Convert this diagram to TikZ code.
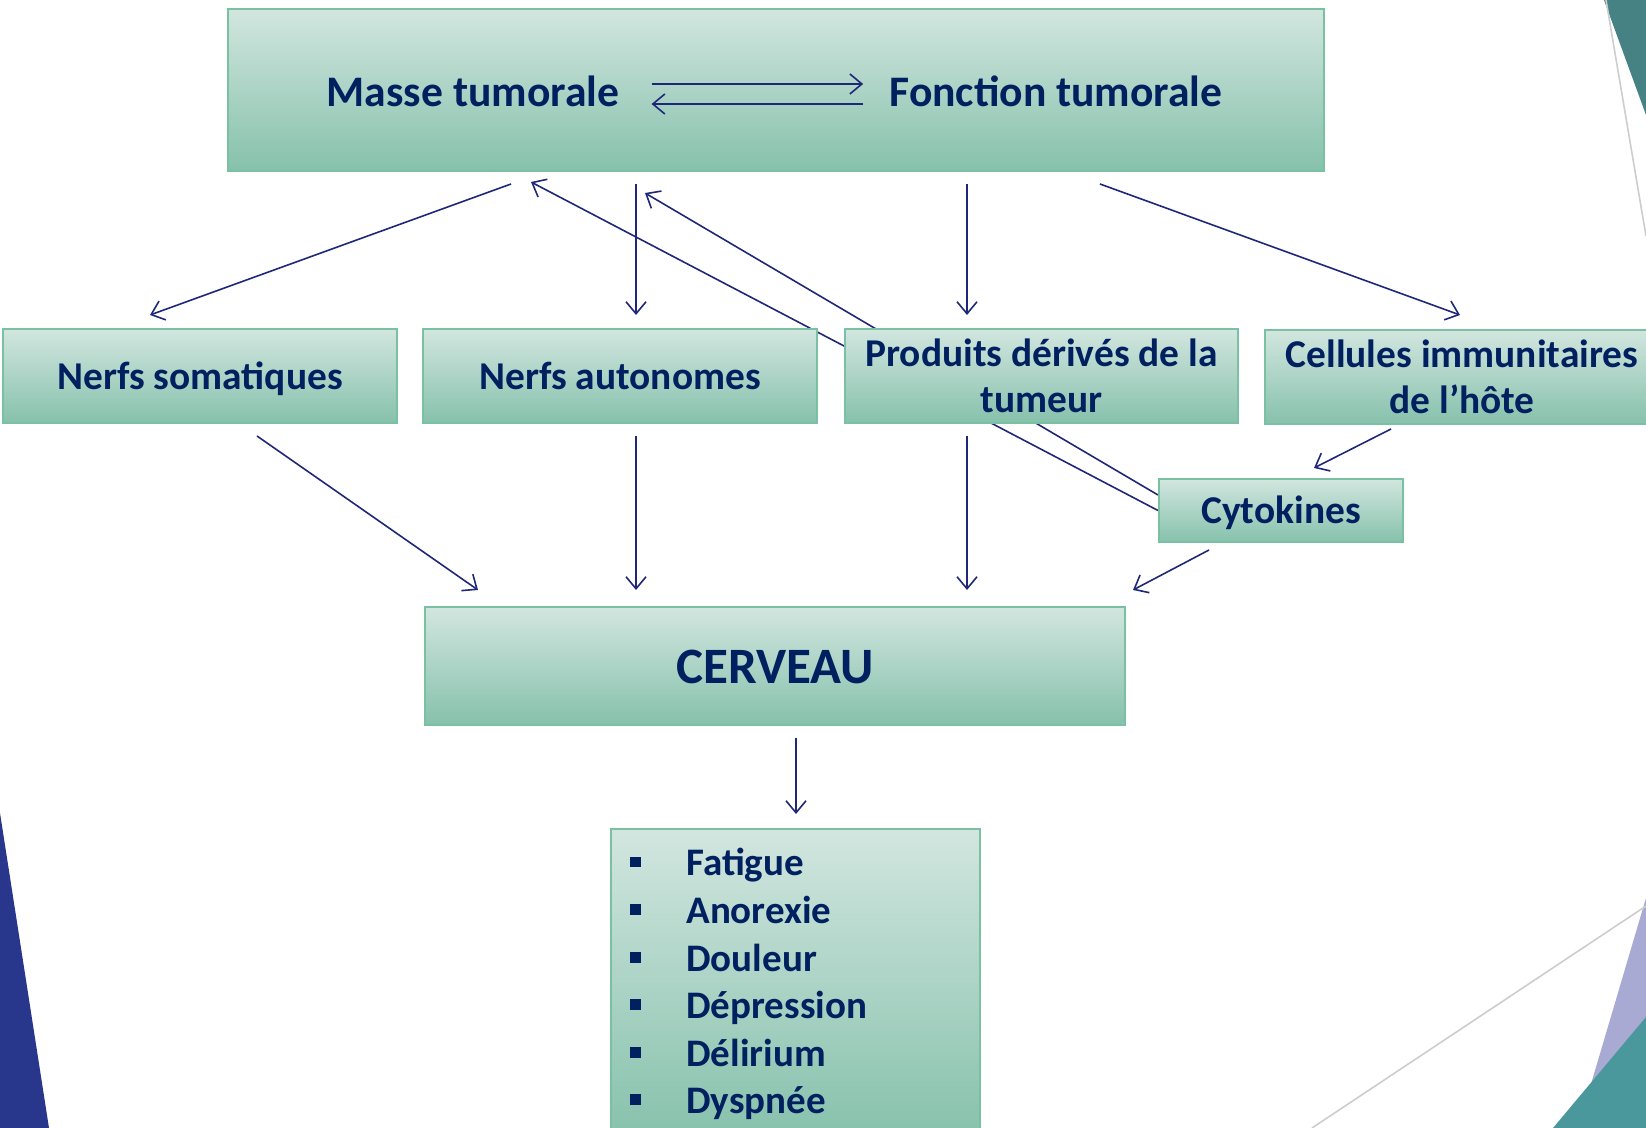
\documentclass[tikz,border=0pt]{standalone}
\usepackage{fontspec}
\setmainfont{Carlito}
\usetikzlibrary{arrows.meta,calc}
\pgfdeclarelayer{bg}
\pgfsetlayers{bg,main}
\definecolor{navy}{RGB}{0,32,96}
\definecolor{arrowblue}{RGB}{31,40,120}
\definecolor{boxtop}{RGB}{210,230,223}
\definecolor{boxbot}{RGB}{134,193,172}
\definecolor{boxedge}{RGB}{122,192,162}
\definecolor{decoblue}{RGB}{40,55,140}
\definecolor{decoteal}{RGB}{70,130,132}
\definecolor{decolav}{RGB}{168,170,212}
\definecolor{decoteal2}{RGB}{75,152,156}
\definecolor{decogray}{RGB}{205,205,205}
\begin{document}
\begin{tikzpicture}[x=0.5pt,y=-0.5pt,
  box/.style={draw=boxedge, line width=1pt, top color=boxtop, bottom color=boxbot,
    inner sep=0pt, text=navy, align=center,
    font=\bfseries\fontsize{19.7}{23}\selectfont},
  oneline/.style={text height=18.75pt, text depth=5.3pt},
  lbl/.style={text=navy, inner sep=0pt, font=\bfseries\fontsize{21.8}{26}\selectfont},
  item/.style={text=navy, inner sep=0pt, anchor=base west,
    font=\bfseries\fontsize{19.5}{23}\selectfont},
  arr/.style={draw=arrowblue, line width=0.8pt, -{Straight Barb[length=6pt,width=10pt]}}]
\useasboundingbox (0,0) rectangle (1646,1128);

% corner ornaments
\fill[decoblue] (0,813) -- (49,1128) -- (0,1128) -- cycle;
\fill[decoteal] (1604,0) -- (1646,0) -- (1646,115) -- cycle;
\draw[decogray, line width=0.8pt] (1606,0) -- (1646,236);
\fill[decolav] (1646,898) -- (1578,1128) -- (1646,1128) -- cycle;
\fill[decoteal2] (1553,1128) -- (1646,1017) -- (1646,1128) -- cycle;
\draw[decogray, line width=0.8pt] (1312,1128) -- (1646,906);

% boxes
\node[box, minimum width=548pt, minimum height=80.75pt] (top) at (776,90) {};
\node[lbl] (masse) at (473,91) {Masse tumorale};
\node[lbl] (fonc) at (1056,91) {Fonction tumorale};

\node[box, oneline, minimum width=197pt, minimum height=47pt] (ns) at (200,376) {Nerfs somatiques};
\node[box, oneline, minimum width=197pt, minimum height=47pt] (na) at (620,376) {Nerfs autonomes};
\node[box, minimum width=196.5pt, minimum height=47.25pt] (pd) at (1041.5,376) {Produits dérivés de la\\tumeur};
\node[box, minimum width=197pt, minimum height=47pt] (ci) at (1462,377) {Cellules immunitaires\\de l’hôte};
\node[box, oneline, minimum width=122pt, minimum height=31.5pt] (cy) at (1281,510.5) {Cytokines};
\node[box, minimum width=350pt, minimum height=59pt, text height=24.3pt, text depth=6.9pt,
  font=\bfseries\fontsize{25.5}{30}\selectfont] (ce) at (775,666) {CERVEAU};
\node[box, minimum width=184.5pt, minimum height=155.5pt] (li) at (795.5,984.5) {};

\foreach \t [count=\i] in {Fatigue,Anorexie,Douleur,Dépression,Délirium,Dyspnée}
  \node[item] (li-\i) at (630,{876+47.5*(\i-1)})
    {\raisebox{4.25pt}{\rule{5.5pt}{5.5pt}}\hspace{22.5pt}\t};

% double arrow between mass and function
\draw[arr] ([shift={(32,-7)}]masse.east) -- ([shift={(-26,-7)}]fonc.west);
\draw[arr] ([shift={(-26,13)}]fonc.west) -- ([shift={(32,13)}]masse.east);

% free arrow ends
\coordinate (t1) at (511,184);  \coordinate (b1) at (150,315);
\coordinate (t2) at (636,184);  \coordinate (b2) at (636,315);
\coordinate (t3) at (531,182);
\coordinate (t4) at (645,193);
\coordinate (t5) at (967,184);  \coordinate (b5) at (967,315);
\coordinate (t6) at (1100,184); \coordinate (b6) at (1460,315);
\coordinate (s7) at (257,436);  \coordinate (e7) at (478,590);
\coordinate (s8) at (636,436);  \coordinate (e8) at (636,590);
\coordinate (s9) at (967,436);  \coordinate (e9) at (967,590);
\coordinate (s10) at (1209,550); \coordinate (e10) at (1133,590);
\coordinate (s11) at (1391,429); \coordinate (e11) at (1314,468);
\coordinate (s12) at (796,738);  \coordinate (e12) at (796,814);

% cytokine feedback to the tumour, passing behind the products box
\begin{pgfonlayer}{bg}
\draw[arr] (cy.west) -- (t3);
\draw[arr] ([yshift=7.75pt]cy.west) -- (t4);
\end{pgfonlayer}

\draw[arr] (t1) -- (b1);
\draw[arr] (t2) -- (b2);
\draw[arr] (t5) -- (b5);
\draw[arr] (t6) -- (b6);
\draw[arr] (s7) -- (e7);
\draw[arr] (s8) -- (e8);
\draw[arr] (s9) -- (e9);
\draw[arr] (s10) -- (e10);
\draw[arr] (s11) -- (e11);
\draw[arr] (s12) -- (e12);
\end{tikzpicture}
\end{document}
